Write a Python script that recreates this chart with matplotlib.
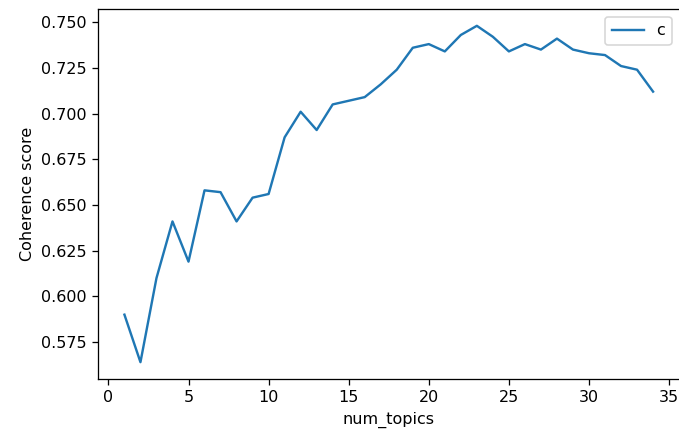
import matplotlib
matplotlib.use("Agg")
import matplotlib.pyplot as plt

# numero de topicos y su coherencia
num_topics = list(range(1, 35))
coherence = [0.590, 0.564, 0.610, 0.641, 0.619, 0.658, 0.657, 0.641, 0.654, 0.656,
             0.687, 0.701, 0.691, 0.705, 0.707, 0.709, 0.716, 0.724, 0.736, 0.738,
             0.734, 0.743, 0.748, 0.742, 0.734, 0.738, 0.735, 0.741, 0.735, 0.733,
             0.732, 0.726, 0.724, 0.712]

# la imagen original parece hecha a mayor dpi
dpi = 115
fig = plt.figure(figsize=(679/dpi, 432/dpi), dpi=dpi)
ax = fig.add_axes([98/679, 1 - 379/432, 581.5/679, 370/432])
ax.plot(num_topics, coherence, color="#1f77b4")
ax.set_xlabel("num_topics")
ax.set_ylabel("Coherence score")
ax.set_xticks([0, 5, 10, 15, 20, 25, 30, 35])
ax.set_yticks([0.575, 0.600, 0.625, 0.650, 0.675, 0.700, 0.725, 0.750])
ax.set_yticklabels(["%.3f" % v for v in ax.get_yticks()])
ax.set_xlim(-0.65, 35.65)
ax.set_ylim(0.5548, 0.7572)
ax.legend(("c",), loc="best")
fig.savefig("out.png", dpi=dpi)
